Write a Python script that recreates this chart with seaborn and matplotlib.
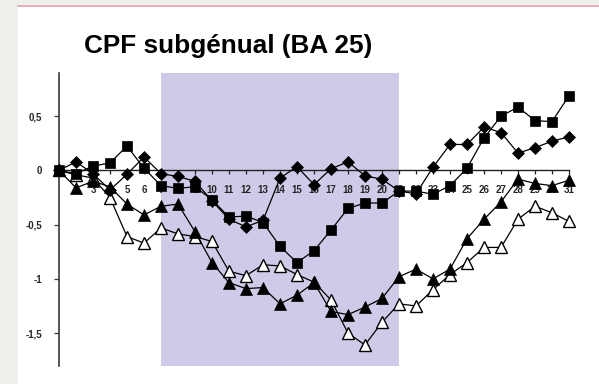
import matplotlib
matplotlib.use("Agg")
import matplotlib.pyplot as plt
import seaborn as sns
import pandas as pd
from matplotlib.patches import Rectangle
from matplotlib.lines import Line2D

categories = list(range(1, 32))
tick_labels = [""] + [str(c) for c in range(2, 32)]

diamond_vals = [0, 0.08, -0.03, -0.18, -0.035, 0.125, -0.03, -0.055, -0.10, -0.28,
                -0.45, -0.52, -0.46, -0.07, 0.035, -0.13, 0.015, 0.08, -0.05, -0.08,
                -0.19, -0.215, 0.03, 0.24, 0.24, 0.40, 0.35, 0.16, 0.21, 0.27, 0.31]
square_vals = [0, -0.03, 0.04, 0.07, 0.225, 0.02, -0.14, -0.165, -0.15, -0.27,
               -0.43, -0.42, -0.48, -0.70, -0.85, -0.74, -0.55, -0.35, -0.30, -0.30,
               -0.19, -0.19, -0.22, -0.14, 0.02, 0.30, 0.50, 0.585, 0.46, 0.45, 0.69]
filled_tri_vals = [0, -0.16, -0.10, -0.15, -0.31, -0.41, -0.33, -0.31, -0.565, -0.85,
                   -1.035, -1.09, -1.08, -1.23, -1.15, -1.035, -1.30, -1.33, -1.26, -1.18,
                   -0.98, -0.91, -1.00, -0.91, -0.63, -0.45, -0.29, -0.08, -0.12, -0.14, -0.09]
open_tri_vals = [0, -0.04, -0.07, -0.25, -0.61, -0.67, -0.53, -0.585, -0.61, -0.655,
                 -0.93, -0.97, -0.87, -0.88, -0.96, -1.03, -1.195, -1.50, -1.61, -1.40,
                 -1.23, -1.25, -1.10, -0.96, -0.85, -0.71, -0.71, -0.45, -0.33, -0.39, -0.47]

y_ticks = [-1.5, -1.0, -0.5, 0.0, 0.5]
y_tick_labels = ["-1,5", "-1", "-0,5", "0", "0,5"]
title = "CPF subgénual (BA 25)"
shade_start, shade_end = 7, 21

sns.set_style("white")
plt.rcParams["font.family"] = ["Liberation Sans", "DejaVu Sans"]

W, H = 599, 384
fig = plt.figure(figsize=(W / 100, H / 100), dpi=100)
fig.patch.set_facecolor("#efefeb")
fig.patches.append(Rectangle((18 / W, 0), 1, 1 - 6.5 / H, transform=fig.transFigure,
                             facecolor="white", edgecolor="none", zorder=-5))
fig.lines.append(Line2D([18 / W, 1], [1 - 5.8 / H, 1 - 5.8 / H], transform=fig.transFigure,
                        color="#e4a3aa", lw=1.2, zorder=-4))

ax = fig.add_axes([59 / W, 1 - 365.6 / H, 510 / W, (365.6 - 72.9) / H])
ax.set_facecolor("none")
ax.set_zorder(1)

ax.axvspan(shade_start, shade_end, color="#cdcbe7", zorder=0, lw=0)

df = pd.DataFrame({"cat": categories, "diamond": diamond_vals, "square": square_vals,
                   "ftri": filled_tri_vals, "otri": open_tri_vals})

common = dict(color="black", linewidth=0.9, markeredgecolor="black", clip_on=False, ax=ax)
sns.lineplot(data=df, x="cat", y="otri", marker="^", markersize=8, markerfacecolor="white",
             markeredgewidth=1.0, zorder=3, **common)
sns.lineplot(data=df, x="cat", y="ftri", marker="^", markersize=8, markerfacecolor="black",
             markeredgewidth=0.5, zorder=4, **common)
sns.lineplot(data=df, x="cat", y="diamond", marker="D", markersize=6.5, markerfacecolor="black",
             markeredgewidth=0.5, zorder=5, **common)
sns.lineplot(data=df, x="cat", y="square", marker="s", markersize=7.2, markerfacecolor="black",
             markeredgewidth=0.5, zorder=6, **common)

ax.set_xlim(1, 31)
ax.set_ylim(-1.8, 0.9)
ax.set_xlabel("")
ax.set_ylabel("")

for s in ["top", "right"]:
    ax.spines[s].set_visible(False)
ax.spines["left"].set_position(("data", 1))
ax.spines["left"].set_color("#3a3a3a")
ax.spines["left"].set_linewidth(1.2)
ax.spines["bottom"].set_position(("data", 0))
ax.spines["bottom"].set_color("#222222")
ax.spines["bottom"].set_linewidth(1.0)
ax.spines["left"].set_zorder(2)
ax.spines["bottom"].set_zorder(2)

ax.set_xticks(categories)
ax.set_xticklabels(tick_labels, fontsize=7, fontweight="bold")
ax.set_yticks(y_ticks)
ax.set_yticklabels(y_tick_labels, fontsize=7, fontweight="bold")
ax.tick_params(axis="x", direction="out", length=3, width=0.9, color="#222222", pad=7.5,
               bottom=True)
ax.tick_params(axis="y", direction="out", length=3.5, width=0.9, color="#3a3a3a", pad=8.5,
               left=True)

fig.text(228 / W, 1 - 52.5 / H, title, ha="center", va="baseline",
         fontsize=18.8, fontweight="bold", color="black")

fig.savefig("out.png", dpi=100, facecolor=fig.get_facecolor())
